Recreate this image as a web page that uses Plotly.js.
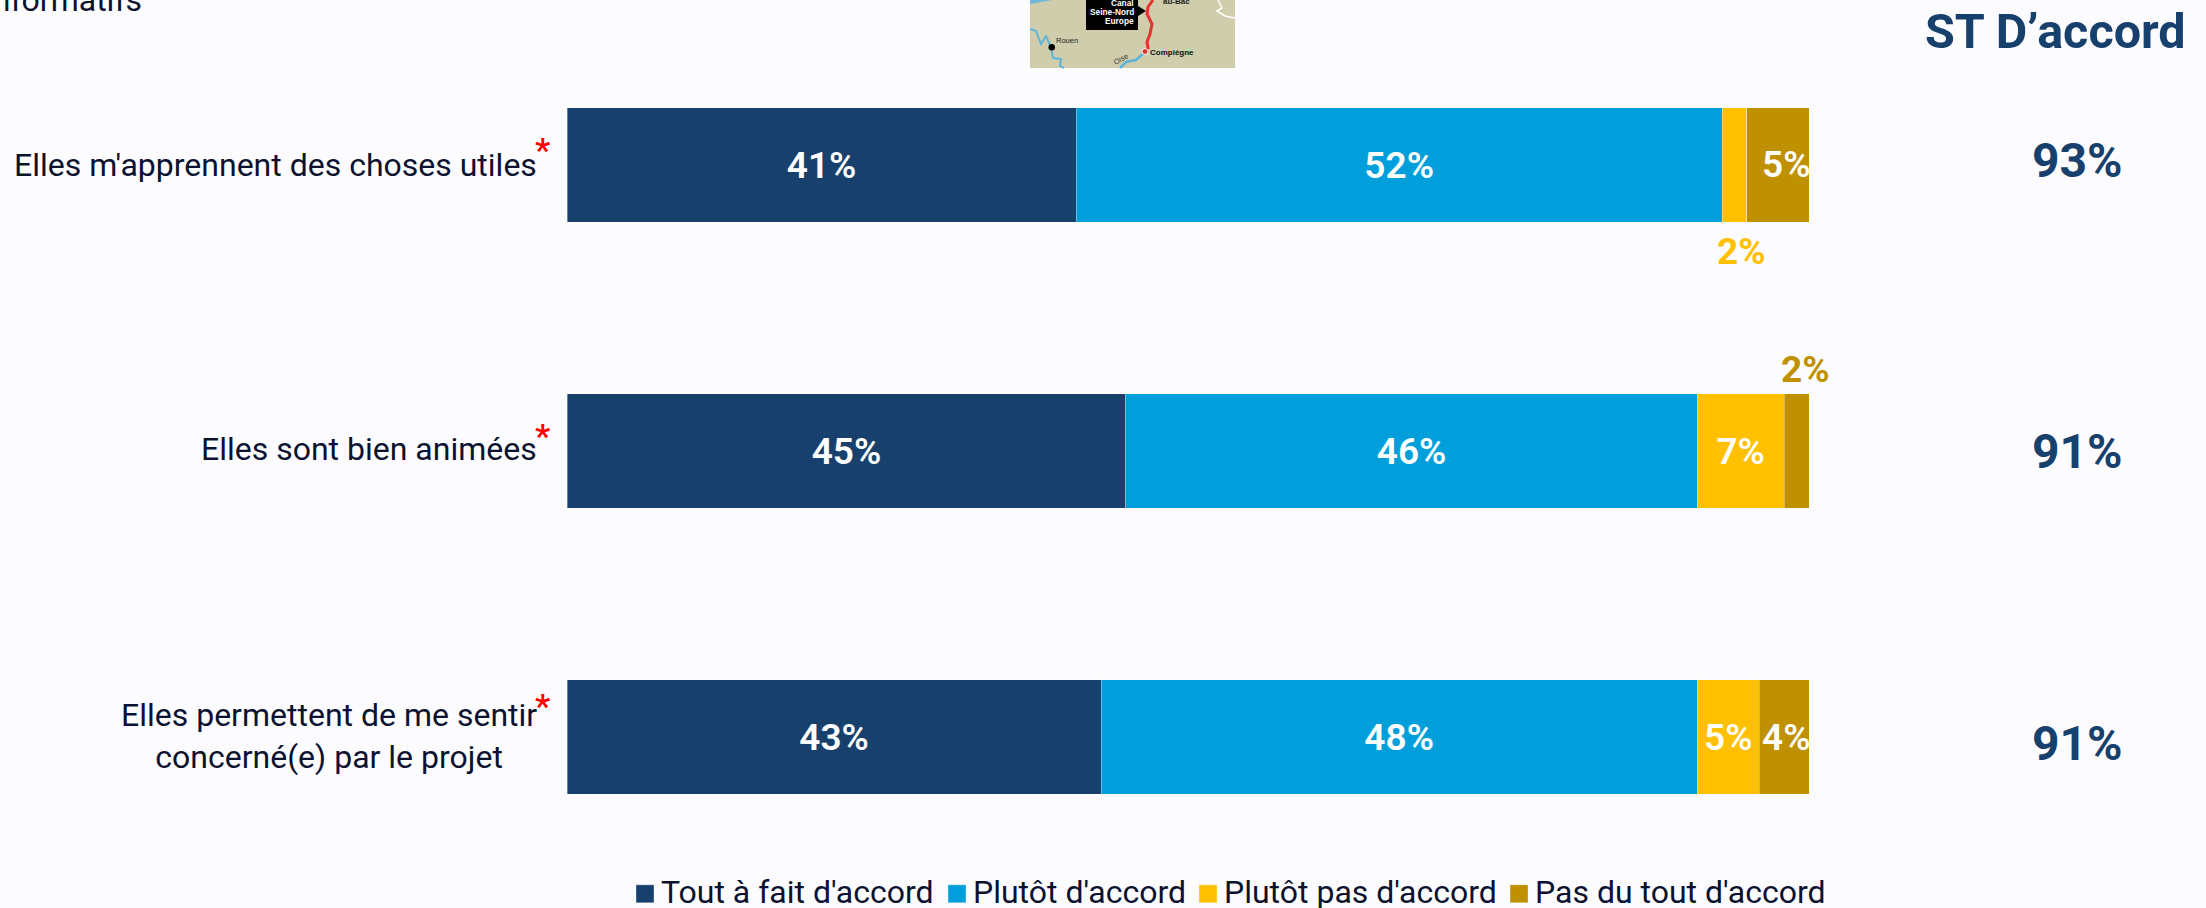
<!DOCTYPE html>
<html><head><meta charset="utf-8">
<script src="https://cdn.plot.ly/plotly-3.0.1.min.js"></script>
<style>html,body{margin:0;padding:0;background:#FCFCFF;overflow:hidden}#c{width:2206px;height:908px}</style>
</head><body><div id="c"></div>
<script>
// ---- data ----
const categories = ["Elles m'apprennent des choses utiles", "Elles sont bien animées", "Elles permettent de me sentir<br>concerné(e) par le projet"];
const seriesNames = ["Tout à fait d'accord", "Plutôt d'accord", "Plutôt pas d'accord", "Pas du tout d'accord"];
const toutAFait = [41, 45, 43];
const plutot = [52, 46, 48];
const plutotPas = [2, 7, 5];
const pasDuTout = [5, 2, 4];
const stAccord = [93, 91, 91];
const colors = ["#18406C", "#009FDB", "#FFC000", "#BF9000"];
const textDark = "#0B1230";
const FONT = "Roboto, sans-serif";

// ---- page geometry ----
const W = 2206, H = 908, L = 567, R = 1809, T = 22, B = 880;
const fx = x => (x - L) / (R - L);
const fy = y => 1 - (y - T) / (B - T);
const path = pts => pts.map((p, i) => (i ? "L" : "M") + fx(p[0]) + "," + fy(p[1])).join(" ");

const pct = v => v + "%";
const inside = (arr, min) => arr.map(v => v >= min ? pct(v) : "");

function barTrace(i, values, minLabel) {
  return {
    type: "bar", orientation: "h", name: seriesNames[i], x: values, y: categories,
    marker: {color: colors[i], line: {color: "rgba(255,255,255,0.35)", width: 1}},
    text: inside(values, minLabel), textposition: "inside", insidetextanchor: "middle",
    textangle: 0, texttemplate: "%{text}",
    textfont: {family: FONT, size: 37, color: "#FFFFFF", weight: 600},
    hoverinfo: "name+x+y"
  };
}
const traces = [
  barTrace(0, toutAFait, 3),
  barTrace(1, plutot, 3),
  barTrace(2, plutotPas, 3),
  barTrace(3, pasDuTout, 100)
];

const ann = [];
const txt = (x, y, text, size, color, opts) => ann.push(Object.assign({
  xref: "paper", yref: "paper", x: fx(x), y: fy(y), text, showarrow: false,
  xanchor: "center", yanchor: "middle",
  font: {family: FONT, size, color}
}, opts || {}));

// category labels and red stars
txt(539, 165, categories[0], 32, textDark, {xanchor: "right"});
txt(539, 449, categories[1], 32, textDark, {xanchor: "right"});
txt(539, 736, categories[2], 32, textDark, {xanchor: "right", align: "center"});
[150, 436, 706].forEach(y => txt(542, y, "*", 34, "#FF0000", {font: {family: FONT, size: 34, color: "#FF0000", weight: 600}}));

// small labels on or beside the last segments
pasDuTout.forEach((v, i) => {
  if (v >= 3) ann.push({xref: "x", yref: "paper", x: 100, xshift: 3, xanchor: "right", yanchor: "middle", y: fy([165, 451, 737][i]), text: pct(v), showarrow: false,
    font: {family: FONT, size: 37, color: "#FFFFFF", weight: 600}});
});
ann.push({xref: "x", yref: "paper", x: 94.6, y: fy(251), yanchor: "middle", text: pct(plutotPas[0]), showarrow: false,
  font: {family: FONT, size: 37, color: colors[2], weight: 700}});
ann.push({xref: "x", yref: "paper", x: 99.7, y: fy(369), yanchor: "middle", text: pct(pasDuTout[1]), showarrow: false,
  font: {family: FONT, size: 37, color: colors[3], weight: 700}});

// sub-total column
txt(2055, 31, "ST D’accord", 48, colors[0], {font: {family: FONT, size: 48.5, color: colors[0], weight: 700}});
[160, 451, 743].forEach((y, i) => txt(2077, y, pct(stAccord[i]), 48, colors[0],
  {font: {family: FONT, size: 48, color: colors[0], weight: 700}}));

// cut-off text at top-left
txt(144, 0, "informatifs", 32, textDark, {xanchor: "right"});

// map thumbnail
const shapes = [];
const sh = (d, fill, line, w) => shapes.push({type: "path", xref: "paper", yref: "paper", path: d,
  fillcolor: fill || "rgba(0,0,0,0)", line: {color: line || "rgba(0,0,0,0)", width: w || 0}, layer: "above"});
sh(path([[1030,0],[1235,0],[1235,68],[1030,68]]) + " Z", "#CFCDAB");
sh(path([[1030,0],[1052,0],[1030,4]]) + " Z", "#6FB7DD");
sh(path([[1030,29],[1036,31],[1041,44],[1046,36],[1051,47],[1053,58],[1061,59],[1060,66],[1064,68]]), null, "#5FB4D8", 2);
sh(path([[1120,68],[1126,62],[1136,60],[1145,52]]), null, "#5FB4D8", 2.5);
sh(path([[1153,0],[1148,7],[1147,14],[1152,24],[1150,34],[1147,42],[1148,48],[1145,51]]), null, "#E0352F", 3);
sh(path([[1218,0],[1222,8],[1217,11],[1225,16],[1235,18]]), null, "#FFFFFF", 1.5);
sh(path([[1086,0],[1138,0],[1138,6],[1146,11],[1138,16],[1138,30],[1086,30]]) + " Z", "#000000");
shapes.push({type: "circle", xref: "paper", yref: "paper", x0: fx(1048.5), x1: fx(1055), y0: fy(50.5), y1: fy(44), fillcolor: "#000", line: {width: 0}, layer: "above"});
shapes.push({type: "circle", xref: "paper", yref: "paper", x0: fx(1142), x1: fx(1148), y0: fy(54.5), y1: fy(48.5), fillcolor: "#E0352F", line: {color: "#fff", width: 1}, layer: "above"});
const mapAnn = (x, y, t, size, color, bold, extra) => txt(x, y, t, size, color, Object.assign({
  font: {family: "Liberation Sans, sans-serif", size, color, weight: bold ? 700 : 400}}, extra || {}));
mapAnn(1136, 3, "Canal", 8.3, "#fff", true, {xanchor: "right"});
mapAnn(1136, 12, "Seine-Nord", 8.3, "#fff", true, {xanchor: "right"});
mapAnn(1136, 21, "Europe", 8.3, "#fff", true, {xanchor: "right"});
mapAnn(1176, 2, "au-Bac", 8, "#222", true);
mapAnn(1067, 41, "Rouen", 7.5, "#222", false);
mapAnn(1172, 52, "Compiègne", 8, "#111", true);
mapAnn(1120, 59, "Oise", 7.5, "#333", false, {textangle: -30});

const layout = {
  width: W, height: H,
  paper_bgcolor: "#FCFCFF", plot_bgcolor: "rgba(0,0,0,0)",
  margin: {l: L, r: W - R, t: T, b: H - B, pad: 0, autoexpand: false},
  barmode: "stack", bargap: 0.6, constraintext: "none",
  font: {family: FONT, color: textDark},
  xaxis: {range: [0, 100], visible: false, fixedrange: true},
  yaxis: {type: "category", categoryorder: "array", categoryarray: categories, range: [2.5, -0.5], visible: false, fixedrange: true},
  showlegend: true,
  legend: {orientation: "h", x: fx(622), xanchor: "left", y: fy(894), yanchor: "middle",
    font: {family: FONT, size: 32, color: textDark}, bgcolor: "rgba(0,0,0,0)", traceorder: "normal", itemclick: false, itemdoubleclick: false},
  annotations: ann, shapes
};

Plotly.newPlot("c", traces, layout, {displayModeBar: false, responsive: false}).then(gd => {
  // tighten the native legend to the reference spacing and 18px swatches
  const lefts = [636, 948, 1199, 1510];
  const lg = gd.querySelector(".legend");
  const m = /translate\(([-\d.]+)[ ,]+([-\d.]+)/.exec(lg.getAttribute("transform"));
  const ox = m ? +m[1] : 0;
  const box = gd.querySelector(".legend .scrollbox");
  if (box) box.removeAttribute("clip-path");
  document.querySelectorAll("clipPath[id^='legend'] rect").forEach(r => { r.setAttribute("width", 1400); r.setAttribute("height", 60); });
  gd.querySelectorAll(".legend .traces").forEach((g, i) => {
    const t = /translate\(([-\d.]+)[ ,]+([-\d.]+)/.exec(g.getAttribute("transform"));
    g.setAttribute("transform", `translate(${lefts[i] - ox},${t ? t[2] : 0})`);
    g.querySelectorAll(".legendpoints path").forEach(p => {
      p.setAttribute("d", "M9,9H-9V-9H9Z");
      p.setAttribute("transform", "translate(9,0)");
    });
    const lt = g.querySelector(".legendtext");
    lt.setAttribute("x", 25);
    lt.setAttribute("y", parseFloat(lt.getAttribute("y") || 0) - 3);
  });
});
</script></body></html>
